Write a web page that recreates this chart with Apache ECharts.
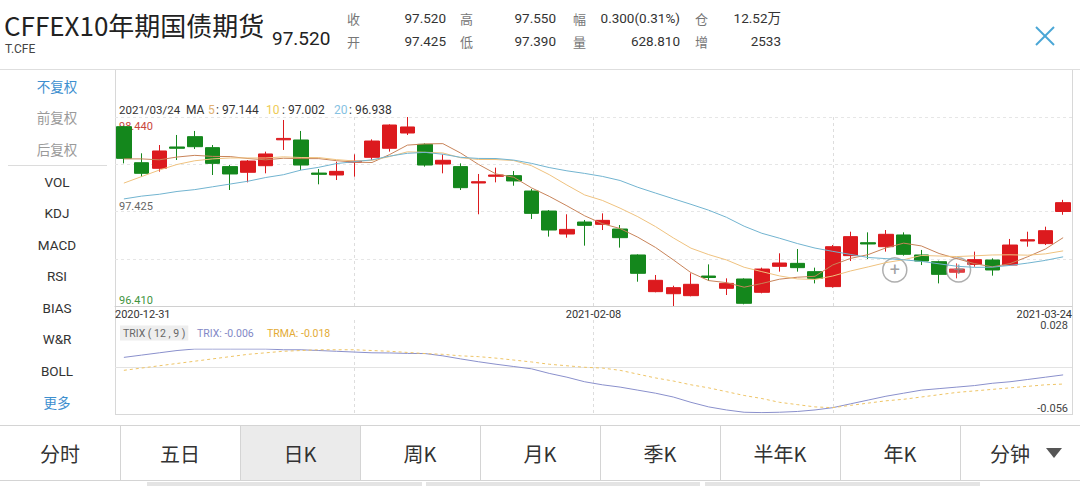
<!DOCTYPE html>
<html><head><meta charset="utf-8">
<script src="https://cdn.jsdelivr.net/npm/echarts@6/dist/echarts.min.js"></script>
<style>html,body{margin:0;padding:0;background:#fff}#c{width:1080px;height:486px}</style>
</head><body><div id="c"></div>
<script>
const dates = ['2020-12-31','2021-01-04','2021-01-05','2021-01-06','2021-01-07','2021-01-08','2021-01-11','2021-01-12','2021-01-13','2021-01-14','2021-01-15','2021-01-18','2021-01-19','2021-01-20','2021-01-21','2021-01-22','2021-01-25','2021-01-26','2021-01-27','2021-01-28','2021-01-29','2021-02-01','2021-02-02','2021-02-03','2021-02-04','2021-02-05','2021-02-08','2021-02-09','2021-02-10','2021-02-18','2021-02-19','2021-02-22','2021-02-23','2021-02-24','2021-02-25','2021-02-26','2021-03-01','2021-03-02','2021-03-03','2021-03-04','2021-03-05','2021-03-08','2021-03-09','2021-03-10','2021-03-11','2021-03-12','2021-03-15','2021-03-16','2021-03-17','2021-03-18','2021-03-19','2021-03-22','2021-03-23','2021-03-24'];
const opens = [98.336,97.949,97.889,98.118,98.229,98.111,97.907,97.846,97.917,98.195,98.193,97.838,97.817,97.955,98.007,98.104,98.268,98.146,97.935,97.907,97.731,97.803,97.810,97.645,97.430,97.183,97.312,97.287,97.237,96.958,96.564,96.542,96.521,96.732,96.600,96.700,96.557,96.836,96.868,96.779,96.618,96.951,97.090,97.047,97.173,96.958,96.886,96.772,96.857,96.904,96.850,97.108,97.080,97.425];
const closes = [97.996,97.835,98.075,98.104,98.121,97.942,97.828,97.967,98.043,98.210,97.924,97.824,97.856,97.966,98.182,98.354,98.333,97.924,97.975,97.681,97.745,97.817,97.753,97.405,97.226,97.233,97.276,97.330,97.144,96.761,96.686,96.607,96.643,96.716,96.653,96.439,96.807,96.872,96.822,96.707,97.047,97.155,97.076,97.180,96.965,96.893,96.750,96.807,96.908,96.797,97.065,97.122,97.219,97.520];
const lows = [97.942,97.799,97.853,97.978,98.096,97.817,97.656,97.738,97.835,98.086,97.871,97.717,97.763,97.799,97.978,98.068,98.247,97.907,97.835,97.656,97.395,97.738,97.702,97.344,97.155,97.144,97.058,97.226,97.037,96.671,96.557,96.410,96.514,96.679,96.528,96.428,96.546,96.779,96.779,96.653,96.607,96.893,96.915,96.994,96.951,96.850,96.653,96.707,96.832,96.736,96.843,97.047,97.065,97.390];
const highs = [98.345,98.050,98.139,98.247,98.290,98.139,97.924,97.978,98.068,98.408,98.290,97.881,97.960,98.039,98.200,98.361,98.440,98.157,98.039,97.942,97.828,97.896,97.860,97.667,97.441,97.395,97.334,97.405,97.280,96.965,96.743,96.628,96.761,96.857,96.707,96.707,96.822,96.976,97.022,96.822,97.065,97.208,97.201,97.226,97.201,97.012,96.897,96.868,96.994,96.922,97.130,97.208,97.262,97.550];
const ma5 = [97.99,97.99,97.98,98.01,98.028,98.017,98.015,97.994,97.980,97.997,97.993,97.993,97.971,97.955,97.951,98.037,98.138,98.151,98.154,98.053,97.932,97.828,97.793,97.679,97.588,97.486,97.379,97.294,97.242,97.149,97.039,96.906,96.768,96.683,96.661,96.612,96.652,96.698,96.719,96.729,96.851,96.921,96.962,97.034,97.085,97.055,96.974,96.919,96.865,96.831,96.865,96.939,97.022,97.144];
const ma10 = [97.73,97.80,97.87,97.93,97.97,97.99,98.00,98.00,98.00,98.012,98.005,98.004,97.982,97.968,97.974,98.015,98.066,98.061,98.054,98.002,97.984,97.983,97.972,97.917,97.821,97.709,97.603,97.544,97.461,97.369,97.263,97.142,97.031,96.962,96.905,96.826,96.779,96.733,96.701,96.695,96.732,96.786,96.830,96.876,96.907,96.953,96.947,96.941,96.949,96.958,96.960,96.956,96.970,97.002];
const ma20 = [97.56,97.59,97.61,97.64,97.66,97.69,97.72,97.75,97.79,97.82,97.87,97.90,97.94,97.96,97.98,98.02,98.05,98.06,98.04,98.007,97.995,97.994,97.977,97.942,97.897,97.862,97.834,97.802,97.758,97.685,97.623,97.562,97.502,97.439,97.363,97.267,97.191,97.138,97.081,97.032,96.997,96.964,96.931,96.919,96.906,96.889,96.863,96.837,96.825,96.827,96.846,96.871,96.900,96.938];
const trix = [0.017,0.020,0.023,0.026,0.028,0.028,0.028,0.028,0.028,0.027,0.027,0.026,0.025,0.024,0.023,0.0228,0.0222,0.022,0.019,0.015,0.0113,0.008,0.005,0.002,-0.004,-0.009,-0.015,-0.019,-0.022,-0.026,-0.030,-0.035,-0.042,-0.048,-0.052,-0.055,-0.0555,-0.055,-0.054,-0.052,-0.049,-0.044,-0.039,-0.034,-0.030,-0.026,-0.024,-0.022,-0.020,-0.017,-0.015,-0.012,-0.009,-0.006];
const trma = [0.000,0.003,0.006,0.009,0.012,0.015,0.018,0.021,0.023,0.025,0.026,0.027,0.027,0.027,0.026,0.025,0.0235,0.022,0.021,0.019,0.018,0.016,0.0135,0.011,0.008,0.006,0.004,0.003,0.000,-0.005,-0.010,-0.014,-0.019,-0.023,-0.028,-0.033,-0.037,-0.042,-0.045,-0.048,-0.049,-0.046,-0.043,-0.040,-0.038,-0.035,-0.032,-0.029,-0.027,-0.025,-0.023,-0.021,-0.019,-0.018];
const priceTicks = ['96.410','','97.425','','98.440'];
const trixTicks = ['-0.056','','0.028'];
const dateTicks = ['2020-12-31','','2021-02-08','','2021-03-24'];
const markers = [[43.5,96.797],[47.1,96.797]];
const quoteRow1 = [['收','97.520'],['高','97.550'],['幅','0.300(0.31%)'],['仓','12.52万']];
const quoteRow2 = [['开','97.425'],['低','97.390'],['量','628.810'],['增','2533']];
const sideItems = ['不复权','前复权','后复权','VOL','KDJ','MACD','RSI','BIAS','W&R','BOLL','更多'];
const tabs = ['分时','五日','日K','周K','月K','季K','半年K','年K','分钟'];

const FONT = 'Roboto, "Noto Sans CJK SC", sans-serif';
const UP = '#dc1a1e', DOWN = '#14871c';
const C5 = '#c8845a', C10 = '#efc27f', C20 = '#72b4d0';

const chart = echarts.init(document.getElementById('c'), null, {renderer: 'svg'});
const candle = dates.map((d, i) => [opens[i], closes[i], lows[i], highs[i]]);

const g = [];
// header
g.push({type:'text', x:4, y:24, style:{text:'CFFEX10年期国债期货', font:'26px "Noto Sans CJK SC", sans-serif', fill:'#222', textVerticalAlign:'middle'}});
g.push({type:'text', x:5, y:49, style:{text:'T.CFE', font:'12px ' + FONT, fill:'#444', textVerticalAlign:'middle'}});
g.push({type:'text', x:272, y:38, style:{text:closes[53].toFixed(3), font:'19px ' + FONT, fill:'#222', textVerticalAlign:'middle'}});
const labX = [347, 460, 573, 695], valX = [446, 556, 680, 781];
[[quoteRow1, 18], [quoteRow2, 41]].forEach(([row, y]) => {
  row.forEach((p, k) => {
    g.push({type:'text', x:labX[k], y:y, style:{text:p[0], font:'13px "Noto Sans CJK SC", sans-serif', fill:'#777', textVerticalAlign:'middle'}});
    g.push({type:'text', x:valX[k], y:y, style:{text:p[1], font:'13.5px ' + FONT, fill:'#333', textAlign:'right', textVerticalAlign:'middle'}});
  });
});
g.push({type:'line', shape:{x1:1036, y1:27, x2:1054, y2:45}, style:{stroke:'#4aa6d6', lineWidth:2}});
g.push({type:'line', shape:{x1:1054, y1:27, x2:1036, y2:45}, style:{stroke:'#4aa6d6', lineWidth:2}});
g.push({type:'line', shape:{x1:0, y1:69.5, x2:1080, y2:69.5}, style:{stroke:'#dedede', lineWidth:1}});
// frame
g.push({type:'line', shape:{x1:115.5, y1:70, x2:115.5, y2:415}, style:{stroke:'#d8d8d8', lineWidth:1}});
g.push({type:'line', shape:{x1:1072.5, y1:70, x2:1072.5, y2:415}, style:{stroke:'#d8d8d8', lineWidth:1}});
g.push({type:'line', shape:{x1:115, y1:414.5, x2:1073, y2:414.5}, style:{stroke:'#d8d8d8', lineWidth:1}});
// sidebar
const sideY = [86,117,149,182,213,245,276,308,339,371,402];
sideItems.forEach((t, k) => {
  const col = (k === 0 || k === 10) ? '#3d8fcf' : (k < 3 ? '#9a9a9a' : '#333');
  g.push({type:'text', x:57, y:sideY[k], style:{text:t, font:(k<3||k===10?'13.5px "Noto Sans CJK SC"':'13.5px ' + FONT), fill:col, textAlign:'center', textVerticalAlign:'middle'}});
});
g.push({type:'line', shape:{x1:8, y1:165.5, x2:107, y2:165.5}, style:{stroke:'#dcdcdc', lineWidth:1}});
// main title (separate pieces)
const titleParts = [
  ['2021/03/24', 119, '#333', 11.5], ['MA', 186, '#333', 12],
  ['5', 208, '#e0b070', 12], [': ' + ma5[53].toFixed(3), 216, '#333', 12],
  ['10', 266, '#eecb55', 12], [': ' + ma10[53].toFixed(3), 282, '#333', 12],
  ['20', 334, '#86c2e2', 12], [': ' + ma20[53].toFixed(3), 349, '#333', 12]
];
titleParts.forEach(([t, x, c, fs]) => g.push({type:'text', x:x, y:110, style:{text:t, font:fs + 'px Roboto', fill:c, textVerticalAlign:'middle'}}));
// trix legend
g.push({type:'text', x:120, y:333, style:{text:'TRIX ( 12 , 9 )', font:'10.5px Roboto', fill:'#666', backgroundColor:'#eeeeee', padding:[2,3], textVerticalAlign:'middle'}});
g.push({type:'text', x:197, y:333, style:{text:'TRIX: ' + trix[53].toFixed(3), font:'10.5px Roboto', fill:'#8288c6', textVerticalAlign:'middle'}});
g.push({type:'text', x:267, y:333, style:{text:'TRMA: ' + trma[53].toFixed(3), font:'10.5px Roboto', fill:'#e3ab35', textVerticalAlign:'middle'}});
// tab bar
g.push({type:'rect', shape:{x:240, y:426, width:120, height:54}, style:{fill:'#ebebeb'}});
g.push({type:'line', shape:{x1:0, y1:425.5, x2:1080, y2:425.5}, style:{stroke:'#d4d4d4', lineWidth:1}});
g.push({type:'line', shape:{x1:0, y1:480.5, x2:1080, y2:480.5}, style:{stroke:'#d4d4d4', lineWidth:1}});
tabs.forEach((t, k) => {
  if (k > 0) g.push({type:'line', shape:{x1:120*k+0.5, y1:426, x2:120*k+0.5, y2:480}, style:{stroke:'#d4d4d4', lineWidth:1}});
  const cx = k === 8 ? 1010 : 120*k + 60;
  g.push({type:'text', x:cx, y:453, style:{text:t, font:'20px "Noto Sans CJK SC", sans-serif', fill:'#333', textAlign:'center', textVerticalAlign:'middle'}});
});
g.push({type:'polygon', shape:{points:[[1046,448],[1062,448],[1054,458]]}, style:{fill:'#555'}});
[[147,275],[426,274],[705,275]].forEach(([x,w]) => g.push({type:'rect', shape:{x:x, y:482, width:w, height:4}, style:{fill:'#e4e4e4'}}));

const hidden = {show:false};
const option = {
  backgroundColor:'#fff',
  animation:false,
  textStyle:{fontFamily:'Roboto'},
  grid:[
    {left:115, top:117, width:957, height:189},
    {left:115, top:320, width:957, height:94},
    {left:115, top:349, width:957, height:64}
  ],
  xAxis:[
    {type:'category', gridIndex:0, data:dates, boundaryGap:true, axisLine:hidden, axisTick:hidden, axisLabel:hidden, splitLine:hidden},
    {type:'value', gridIndex:0, min:0, max:4, interval:1, position:'bottom',
      axisLine:{show:true, lineStyle:{color:'#d0d0d0'}}, axisTick:hidden,
      axisLabel:{show:true, margin:3, fontSize:11, color:'#333', formatter:v => dateTicks[v] || '', alignMinLabel:'left', alignMaxLabel:'right'},
      splitLine:{show:true, showMinLine:false, showMaxLine:false, lineStyle:{color:'#dddddd', type:[3,3]}}},
    {type:'value', gridIndex:0, min:-0.5, max:53.5, show:false},
    {type:'value', gridIndex:1, min:0, max:4, interval:1, axisLine:hidden, axisTick:hidden, axisLabel:hidden,
      splitLine:{show:true, showMinLine:false, showMaxLine:false, lineStyle:{color:'#dddddd', type:[3,3]}}},
    {type:'category', gridIndex:2, data:dates, boundaryGap:true, show:false}
  ],
  yAxis:[
    {type:'value', gridIndex:0, min:96.41, max:98.44, show:false},
    {type:'value', gridIndex:0, min:0, max:4, interval:1, position:'left',
      axisLine:hidden, axisTick:hidden,
      axisLabel:{inside:true, margin:4, fontSize:11, verticalAlign:'bottom', verticalAlignMaxLabel:'top',
        formatter:v => { const t = priceTicks[v]; if (!t) return ''; return '{' + (v===4?'r':(v===0?'g':'n')) + '|' + t + '}'; },
        rich:{r:{color:'#c9473c', fontSize:11, padding:[4,0,0,0]}, g:{color:'#3f9440', fontSize:11}, n:{color:'#666', fontSize:11}}},
      splitLine:{show:true, lineStyle:{color:'#e6e6e6', type:[3,3]}}},
    {type:'value', gridIndex:1, min:0, max:2, interval:1, position:'right',
      axisLine:hidden, axisTick:hidden,
      axisLabel:{inside:true, margin:4, fontSize:11, color:'#444', verticalAlignMaxLabel:'top', verticalAlignMinLabel:'bottom', formatter:v => trixTicks[v] || ''},
      splitLine:{show:true, showMinLine:false, showMaxLine:false, lineStyle:{color:'#e3e3e3'}}},
    {type:'value', gridIndex:2, min:-0.056, max:0.028, show:false}
  ],
  series:[
    {type:'candlestick', xAxisIndex:0, yAxisIndex:0, data:candle, barWidth:15,
      itemStyle:{color:UP, color0:DOWN, borderColor:UP, borderColor0:DOWN, borderWidth:1}},
    {type:'line', xAxisIndex:0, yAxisIndex:0, data:ma5, symbol:'none', lineStyle:{color:C5, width:1}},
    {type:'line', xAxisIndex:0, yAxisIndex:0, data:ma10, symbol:'none', lineStyle:{color:C10, width:1}},
    {type:'line', xAxisIndex:0, yAxisIndex:0, data:ma20, symbol:'none', lineStyle:{color:C20, width:1}},
    {type:'scatter', xAxisIndex:2, yAxisIndex:0, data:markers, symbol:'circle', symbolSize:24,
      itemStyle:{color:'rgba(255,255,255,0.2)', borderColor:'#9a9a9a', borderWidth:1.5},
      label:{show:true, position:'inside', formatter:'+', fontSize:18, color:'#8a8a8a'}},
    {type:'line', xAxisIndex:4, yAxisIndex:3, data:trix, symbol:'none', lineStyle:{color:'#8a90cc', width:1}},
    {type:'line', xAxisIndex:4, yAxisIndex:3, data:trma, symbol:'none', lineStyle:{color:'#eec466', width:1, type:[3,3]}}
  ],
  graphic:g
};
chart.setOption(option);
</script></body></html>
